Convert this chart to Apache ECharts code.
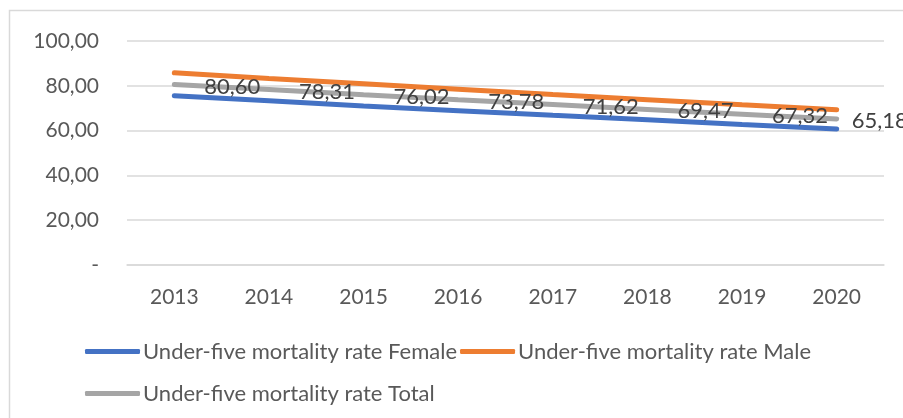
<!DOCTYPE html>
<html>
<head>
<meta charset="utf-8">
<script src="https://cdn.jsdelivr.net/npm/echarts@6/dist/echarts.min.js"></script>
<style>
  html, body { margin: 0; padding: 0; background: #fff; }
  #chart { width: 903px; height: 418px; }
</style>
</head>
<body>
<div id="chart"></div>
<script>
const years = ['2013', '2014', '2015', '2016', '2017', '2018', '2019', '2020']
const femaleRates = [75.6, 73.3, 71.0, 68.9, 66.8, 64.8, 62.7, 60.7]
const maleRates = [85.8, 83.3, 80.9, 78.5, 76.1, 73.8, 71.5, 69.3]
const totalRates = [80.60, 78.31, 76.02, 73.78, 71.62, 69.47, 67.32, 65.18]

const fontFamily = 'Lato, "Open Sans", sans-serif'
const textColor = '#595959'
const gridColor = '#d9d9d9'

const chart = echarts.init(document.getElementById('chart'))

function fmt(v) {
  return v === 0 ? '-' : v.toFixed(2).replace('.', ',')
}

chart.setOption({
  animation: false,
  textStyle: { fontFamily },
  graphic: [
    {
      type: 'rect',
      shape: { x: 9.5, y: 10.5, width: 920, height: 420 },
      style: { fill: 'none', stroke: gridColor, lineWidth: 1.5 },
      silent: true,
    },
  ],
  grid: { left: 127, right: 19, top: 41, bottom: 153 },
  legend: {
    left: 80,
    top: 327,
    width: 760,
    itemWidth: 55,
    itemHeight: 5,
    itemGap: 3,
    icon: 'roundRect',
    textStyle: { color: textColor, fontSize: 22, fontFamily, lineHeight: 39, padding: [0, 0, 0, -2] },
    data: ['Under-five mortality rate Female', 'Under-five mortality rate Male', 'Under-five mortality rate Total'],
  },
  xAxis: {
    type: 'category',
    data: years,
    boundaryGap: true,
    axisTick: { show: false },
    axisLine: { lineStyle: { color: gridColor, width: 1.5 } },
    axisLabel: { color: textColor, fontSize: 21, margin: 22 },
  },
  yAxis: {
    type: 'value',
    min: 0,
    max: 100,
    interval: 20,
    axisLine: { show: false },
    axisTick: { show: false },
    splitLine: { lineStyle: { color: gridColor, width: 1.5 } },
    axisLabel: { color: textColor, fontSize: 21, margin: 28, formatter: fmt },
  },
  series: [
    {
      name: 'Under-five mortality rate Female',
      type: 'line',
      data: femaleRates,
      showSymbol: false,
      lineStyle: { color: '#4472c4', width: 5, cap: 'round' },
      itemStyle: { color: '#4472c4' },
    },
    {
      name: 'Under-five mortality rate Male',
      type: 'line',
      data: maleRates,
      showSymbol: false,
      lineStyle: { color: '#ed7d31', width: 5, cap: 'round' },
      itemStyle: { color: '#ed7d31' },
    },
    {
      name: 'Under-five mortality rate Total',
      type: 'line',
      data: totalRates.map((value, i) => ({
        value,
        label: { distance: i === totalRates.length - 1 ? 15 : 30 },
      })),
      symbol: 'circle',
      symbolSize: 0,
      showSymbol: true,
      itemStyle: { color: '#a5a5a5', borderWidth: 0 },
      lineStyle: { color: '#a5a5a5', width: 5, cap: 'round' },
      label: {
        show: true,
        position: 'right',
        distance: 30,
        offset: [0, 2],
        color: '#404040',
        fontSize: 22,
        fontFamily,
        formatter: (p) => fmt(p.value),
      },
    },
  ],
})
</script>
</body>
</html>
